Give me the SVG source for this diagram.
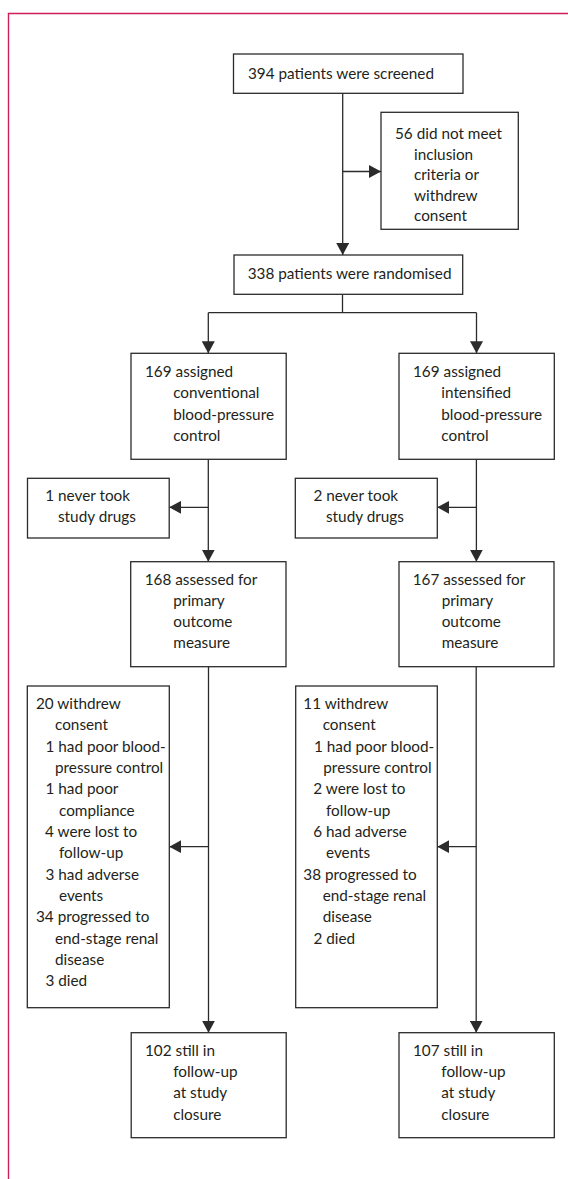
<svg xmlns="http://www.w3.org/2000/svg" width="568" height="1179" viewBox="0 0 568 1179">
<style>
.frame{fill:none;stroke:#cf1f57;stroke-width:1.4}
.box{fill:#fff;stroke:#2b2b2b;stroke-width:1.3}
.c{fill:none;stroke:#2b2b2b;stroke-width:1.3}
.a{marker-end:url(#ah)}
text{font-family:Lato,"Open Sans","Liberation Sans",sans-serif;font-size:15.3px;fill:#231f20}
</style>
<defs>
<marker id="ah" markerUnits="userSpaceOnUse" markerWidth="12" markerHeight="13" refX="12" refY="6.5" orient="auto">
<path d="M0,0 L12,6.5 L0,13 Z" fill="#2b2b2b"/>
</marker>
</defs>
<rect width="568" height="1179" fill="#fff"/>
<path class="frame" d="M8.5,1179 V13.5 H568"/>

<g id="connectors">
<path class="c a" d="M342.7,93.3 V255"/>
<path class="c a" d="M342.7,171.5 H381"/>
<path class="c" d="M342.5,294.3 V312.7 M208.3,312.7 H476.5"/>
<path class="c a" d="M208.3,312.7 V353.3"/>
<path class="c a" d="M476.5,312.7 V353.3"/>
<path class="c a" d="M208.3,459.3 V561.7"/>
<path class="c a" d="M208.3,507.3 H169.2"/>
<path class="c a" d="M476.4,459.3 V561.7"/>
<path class="c a" d="M476.4,507.3 H437.3"/>
<path class="c a" d="M208.5,666.7 V1032.7"/>
<path class="c a" d="M208.5,846.7 H169.3"/>
<path class="c a" d="M476.2,666.7 V1032.7"/>
<path class="c a" d="M476.2,846.7 H437.3"/>
</g>

<g id="screened">
<rect class="box" x="233.5" y="54" width="229.5" height="39.3"/>
<text x="248" y="79">394 patients were screened</text>
</g>

<g id="excluded">
<rect class="box" x="381" y="112.3" width="137.3" height="117"/>
<text x="395" y="139">56 did not meet</text>
<text x="414" y="159.5">inclusion</text>
<text x="414" y="180">criteria or</text>
<text x="414" y="200.5">withdrew</text>
<text x="414" y="221">consent</text>
</g>

<g id="randomised">
<rect class="box" x="234" y="255" width="228.7" height="39.3"/>
<text x="247.7" y="279">338 patients were randomised</text>
</g>

<g id="conventional">
<rect class="box" x="131" y="353.3" width="155.2" height="106"/>
<text x="145" y="377">169 assigned</text>
<text x="173.2" y="398.3">conventional</text>
<text x="173.2" y="419.6">blood-pressure</text>
<text x="173.2" y="440.9">control</text>
</g>

<g id="intensified">
<rect class="box" x="399" y="353.3" width="155.3" height="106"/>
<text x="413" y="377">169 assigned</text>
<text x="441.3" y="398.3">intensified</text>
<text x="441.3" y="419.6">blood-pressure</text>
<text x="441.3" y="440.9">control</text>
</g>

<g id="never-left">
<rect class="box" x="27.5" y="478.3" width="141.7" height="59.7"/>
<text x="45.3" y="501">1 never took</text>
<text x="58" y="522.3">study drugs</text>
</g>

<g id="never-right">
<rect class="box" x="295.3" y="478.3" width="142" height="59.7"/>
<text x="313.4" y="501">2 never took</text>
<text x="326" y="522.3">study drugs</text>
</g>

<g id="assessed-left">
<rect class="box" x="130.7" y="561.7" width="155.3" height="105"/>
<text x="144.7" y="584.5">168 assessed for</text>
<text x="173.3" y="605.8">primary</text>
<text x="173.3" y="627.1">outcome</text>
<text x="173.3" y="648.4">measure</text>
</g>

<g id="assessed-right">
<rect class="box" x="399" y="561.7" width="155" height="105"/>
<text x="412.7" y="584.5">167 assessed for</text>
<text x="441.7" y="605.8">primary</text>
<text x="441.7" y="627.1">outcome</text>
<text x="441.7" y="648.4">measure</text>
</g>

<g id="lost-left">
<rect class="box" x="27.3" y="686" width="142" height="321.7"/>
<text x="36" y="709">20 withdrew</text>
<text x="55" y="730.3">consent</text>
<text x="45.5" y="751.7">1 had poor blood-</text>
<text x="55" y="773">pressure control</text>
<text x="45.5" y="794.3">1 had poor</text>
<text x="59" y="815.7">compliance</text>
<text x="45" y="837">4 were lost to</text>
<text x="59" y="858.3">follow-up</text>
<text x="45.5" y="879.7">3 had adverse</text>
<text x="59" y="901">events</text>
<text x="36" y="922.3">34 progressed to</text>
<text x="55" y="943.7">end-stage renal</text>
<text x="55" y="965">disease</text>
<text x="45.5" y="986.3">3 died</text>
</g>

<g id="lost-right">
<rect class="box" x="295.7" y="686" width="141.6" height="321.7"/>
<text x="303.3" y="709">11 withdrew</text>
<text x="322.7" y="730.3">consent</text>
<text x="314" y="751.7">1 had poor blood-</text>
<text x="323.3" y="773">pressure control</text>
<text x="313.3" y="794.3">2 were lost to</text>
<text x="326" y="815.7">follow-up</text>
<text x="313.3" y="837">6 had adverse</text>
<text x="326" y="858.3">events</text>
<text x="303.3" y="879.7">38 progressed to</text>
<text x="322.7" y="901">end-stage renal</text>
<text x="322.7" y="922.3">disease</text>
<text x="313.4" y="943.7">2 died</text>
</g>

<g id="followup-left">
<rect class="box" x="131.2" y="1032.7" width="155" height="105"/>
<text x="145" y="1055.7">102 still in</text>
<text x="173.2" y="1077">follow-up</text>
<text x="173.2" y="1098.3">at study</text>
<text x="173.2" y="1119.7">closure</text>
</g>

<g id="followup-right">
<rect class="box" x="399" y="1032.7" width="155.3" height="105"/>
<text x="413" y="1055.7">107 still in</text>
<text x="441.3" y="1077">follow-up</text>
<text x="441.3" y="1098.3">at study</text>
<text x="441.3" y="1119.7">closure</text>
</g>
</svg>
